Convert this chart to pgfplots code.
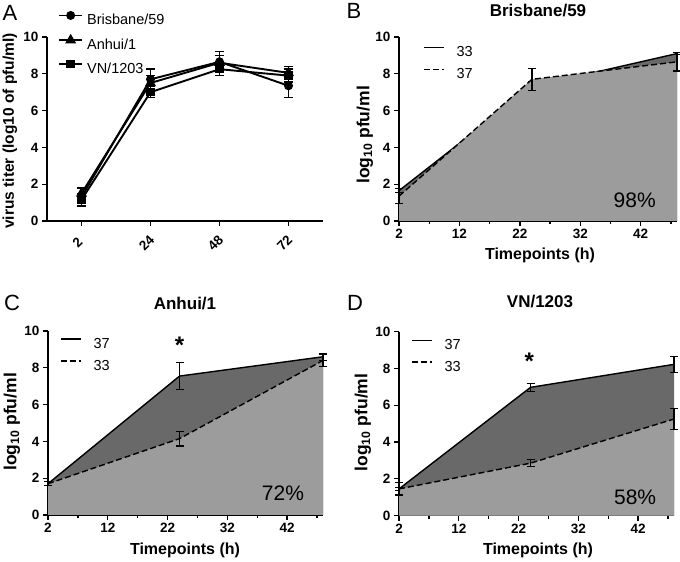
\documentclass[border=0pt]{standalone}
\usepackage{fontspec}
\setmainfont{Liberation Sans}
\usepackage{pgfplots}
\pgfplotsset{compat=1.18}

\definecolor{fillDark}{HTML}{696969}
\definecolor{fillLight}{HTML}{9C9C9C}

\pgfplotsset{
  prism/.style={
    scale only axis, height=184pt,
    axis x line=bottom, axis y line=left,
    axis line style={-, line width=1.3pt},
    tick align=outside, major tick length=5pt, minor tick length=3pt,
    tick style={line width=1.3pt, black},
    ymin=0, ymax=10, ytick={0,2,...,10},
    /pgf/number format/assume math mode=true,
    tick label style={font=\fontsize{13.5}{15}\selectfont\bfseries},
    legend cell align=left,
    clip=false,
  },
  timeax/.style={prism, xmin=2, xmax=48,
    xtick={2,12,22,32,42}, minor xtick={7,17,27,37,47},
    legend style={draw=none, fill=none, anchor=north west,
      font=\fontsize{14.5}{16}\selectfont,
      nodes={inner sep=0pt, text depth=0pt, text height=10.5pt},
      row sep=11.5pt,
      /tikz/every odd column/.append style={column sep=12pt}},
    legend image code/.code={\draw[##1] (0pt,4pt) -- (20pt,4pt);},
  },
  sline/.style={black, line width=1.4pt},
  dline/.style={black, line width=1.4pt, dash pattern=on 6pt off 3pt},
  ebar/.style={error bars/.cd, y dir=both, y explicit,
    error bar style={line width=1.1pt, solid},
    error mark options={rotate=90, mark size=4pt, line width=1.1pt, solid}},
}

\begin{document}
\begin{tikzpicture}[x=1pt, y=1pt]
\useasboundingbox (0,0) rectangle (680,562);

% ---------------- A ----------------
\begin{axis}[prism, at={(47pt,341pt)}, anchor=south west, width=276pt,
  xmin=-0.5, xmax=3.5, xtick={0,1,2,3}, xticklabels={2,24,48,72},
  xticklabel style={anchor=center, yshift=-17pt, xshift=-4pt, rotate=45},
  legend style={draw=none, fill=none, anchor=north west,
    at={(axis description cs:0.029,1.148)},
    font=\fontsize{14.5}{16}\selectfont,
    nodes={inner sep=0pt, text depth=0pt, text height=10.5pt},
    row sep=11pt,
    /tikz/every odd column/.append style={column sep=4pt}},
  legend image code/.code={\draw[mark repeat=2, mark phase=2, #1] plot coordinates {(0pt,4pt) (11.5pt,4pt) (23pt,4pt)};},
]
\addplot[black, line width=1.9pt, mark=*, mark size=3.5pt, mark options={solid},
  error bars/.cd, y dir=both, y explicit,
  error bar style={line width=1.4pt},
  error mark options={rotate=90, mark size=4.5pt, line width=1.4pt}]
  coordinates {(0,1.3) +- (0,0.45) (1,7.7) +- (0,0.55) (2,8.65) +- (0,0.55) (3,7.35) +- (0,0.65)};
\addlegendentry{Brisbane/59}
\addplot[black, line width=1.9pt, mark=triangle*, mark size=4.5pt, mark options={solid},
  error bars/.cd, y dir=both, y explicit,
  error bar style={line width=1.4pt},
  error mark options={rotate=90, mark size=4.5pt, line width=1.4pt}]
  coordinates {(0,1.5) +- (0,0.3) (1,7.5) +- (0,0.4) (2,8.6) +- (0,0.4) (3,8.05) +- (0,0.35)};
\addlegendentry{Anhui/1}
\addplot[black, line width=1.9pt, mark=square*, mark size=3.3pt, mark options={solid},
  error bars/.cd, y dir=both, y explicit,
  error bar style={line width=1.4pt},
  error mark options={rotate=90, mark size=4.5pt, line width=1.4pt}]
  coordinates {(0,1.15) +- (0,0.35) (1,7.0) +- (0,0.3) (2,8.25) +- (0,0.35) (3,7.9) +- (0,0.35)};
\addlegendentry{VN/1203}
\end{axis}

% ---------------- B ----------------
\begin{axis}[timeax, at={(399pt,341pt)}, anchor=south west, width=278pt,
  legend style={at={(axis description cs:0.0755,0.963)}}]
\addplot[draw=none, fill=fillDark, forget plot] coordinates {(2,1.65) (24,7.3) (48,9.1)} \closedcycle;
\addplot[sline, ebar] coordinates {(2,1.65) +- (0,0.1) (24,7.3) +- (0,0.3) (48,9.1) +- (0,0.06)};
\addlegendentry{33}
\addplot[draw=none, fill=fillLight, forget plot] coordinates {(2,1.35) (24,7.7) (48,8.65)} \closedcycle;
\addplot[dline, ebar] coordinates {(2,1.35) +- (0,0.4) (24,7.7) +- (0,0.6) (48,8.65) +- (0,0.5)};
\addlegendentry{37}
\node[font=\fontsize{21}{21}\selectfont] at (axis cs:41.0,1.14) {98\%};
\end{axis}

% ---------------- C ----------------
\begin{axis}[timeax, at={(48pt,47pt)}, anchor=south west, width=275pt,
  legend style={at={(axis description cs:0.033,0.975)}}]
\addplot[draw=none, fill=fillDark, forget plot] coordinates {(2,1.7) (24,7.55) (48,8.6)} \closedcycle;
\addplot[sline, ebar] coordinates {(2,1.7) +- (0,0.1) (24,7.55) +- (0,0.72) (48,8.6) +- (0,0.2)};
\addlegendentry{37}
\addplot[draw=none, fill=fillLight, forget plot] coordinates {(2,1.7) (24,4.15) (48,8.4)} \closedcycle;
\addplot[dline, ebar] coordinates {(2,1.7) +- (0,0.1) (24,4.15) +- (0,0.4) (48,8.4) +- (0,0.35)};
\addlegendentry{33}
\node[font=\fontsize{24}{24}\selectfont\bfseries, anchor=north, inner sep=0pt] at (axis cs:24,9.67) {*};
\node[font=\fontsize{21}{21}\selectfont] at (axis cs:41.3,1.2) {72\%};
\end{axis}

% ---------------- D ----------------
\begin{axis}[timeax, at={(399pt,46.4pt)}, anchor=south west, width=275pt,
  legend style={at={(axis description cs:0.033,0.972)}}]
\addplot[draw=none, fill=fillDark, forget plot] coordinates {(2,1.45) (24,6.97) (48,8.22)} \closedcycle;
\addplot[sline, ebar] coordinates {(2,1.45) +- (0,0.1) (24,6.97) +- (0,0.23) (48,8.22) +- (0,0.43)};
\addlegendentry{37}
\addplot[draw=none, fill=fillLight, forget plot] coordinates {(2,1.45) (24,2.85) (48,5.25)} \closedcycle;
\addplot[dline, ebar] coordinates {(2,1.45) +- (0,0.33) (24,2.85) +- (0,0.2) (48,5.25) +- (0,0.58)};
\addlegendentry{33}
\node[font=\fontsize{24}{24}\selectfont\bfseries, anchor=north, inner sep=0pt] at (axis cs:23.8,8.84) {*};
\node[font=\fontsize{21}{21}\selectfont] at (axis cs:41.5,1.0) {58\%};
\end{axis}

% ---------------- labels ----------------
\begin{scope}[every node/.style={inner sep=0pt}]
\node[font=\fontsize{22}{22}\selectfont] at (10,549) {A};
\node[font=\fontsize{22}{22}\selectfont] at (354,551) {B};
\node[font=\fontsize{22}{22}\selectfont] at (12,259) {C};
\node[font=\fontsize{22}{22}\selectfont] at (355,259) {D};
\node[font=\fontsize{17}{17}\selectfont\bfseries] at (538,551) {Brisbane/59};
\node[font=\fontsize{17}{17}\selectfont\bfseries] at (185,258) {Anhui/1};
\node[font=\fontsize{17}{17}\selectfont\bfseries] at (540,260) {VN/1203};
\node[font=\fontsize{15.5}{16}\selectfont\bfseries, rotate=90] at (10,431) {virus titer (log10 of pfu/ml)};
\node[font=\fontsize{17.5}{17.5}\selectfont\bfseries, rotate=90] at (365,427) {log\textsubscript{10} pfu/ml};
\node[font=\fontsize{17.5}{17.5}\selectfont\bfseries, rotate=90] at (12,140) {log\textsubscript{10} pfu/ml};
\node[font=\fontsize{17.5}{17.5}\selectfont\bfseries, rotate=90] at (363,139.5) {log\textsubscript{10} pfu/ml};
\node[font=\fontsize{16}{16}\selectfont\bfseries] at (540,307) {Timepoints (h)};
\node[font=\fontsize{16}{16}\selectfont\bfseries] at (185,12) {Timepoints (h)};
\node[font=\fontsize{16}{16}\selectfont\bfseries] at (538,12) {Timepoints (h)};
\end{scope}
\end{tikzpicture}
\end{document}
